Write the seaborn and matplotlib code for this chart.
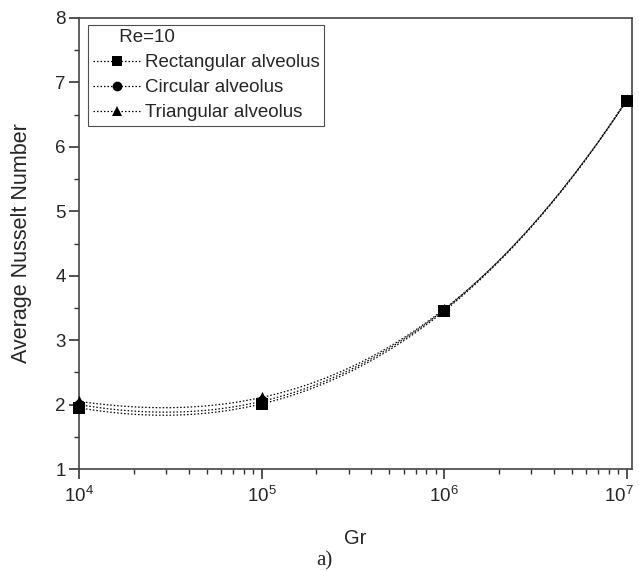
import numpy as np
import pandas as pd
import matplotlib
matplotlib.use("Agg")
import matplotlib.pyplot as plt
import matplotlib.transforms as mtrans
from matplotlib.lines import Line2D
from matplotlib.ticker import MultipleLocator, LogLocator, NullFormatter, FixedLocator
import seaborn as sns

gr = [1e4, 1e5, 1e6, 1e7]
rect = [1.95, 2.01, 3.45, 6.71]
circ = [2.00, 2.05, 3.47, 6.72]
tri = [2.05, 2.11, 3.48, 6.73]
labels = ["Rectangular alveolus", "Circular alveolus", "Triangular alveolus"]
markers = ["s", "o", "^"]

sns.set_style("ticks")
plt.rcParams['font.family'] = ['Liberation Sans', 'DejaVu Sans']

fig = plt.figure(figsize=(6.39, 5.71), dpi=100)
L, R, T, B = 79, 632, 18, 469
ax = fig.add_axes([L / 639, 1 - B / 571, (R - L) / 639, (B - T) / 571])

lx = np.log10(gr)
xs = np.linspace(lx[0], lx[-1], 300)
rows = []
pts = []
for lab, ys in zip(labels, [rect, circ, tri]):
    coef = np.polyfit(lx, ys, 3)
    ysm = np.polyval(coef, xs)
    rows.append(pd.DataFrame({"Gr": 10 ** xs, "Nu": ysm, "s": lab}))
    pts.append(pd.DataFrame({"Gr": gr, "Nu": ys, "s": lab}))
smooth = pd.concat(rows)
points = pd.concat(pts)

dash = (0, (1.2, 1.6))
for lab, m in zip(labels, markers):
    sns.lineplot(data=smooth[smooth.s == lab], x="Gr", y="Nu", ax=ax,
                 color="black", linewidth=0.9, linestyle=dash, legend=False)
    sns.scatterplot(data=points[points.s == lab], x="Gr", y="Nu", ax=ax,
                    marker=m, color="black", s=65, edgecolor="black",
                    linewidth=0, legend=False, zorder=5, clip_on=False)

ax.set_xscale("log")
ax.set_xlim(1e4, 10 ** 7.03)
ax.set_ylim(1, 8)
ax.yaxis.set_major_locator(MultipleLocator(1))
ax.yaxis.set_minor_locator(MultipleLocator(0.5))
ax.xaxis.set_major_locator(FixedLocator(gr))
ax.xaxis.set_minor_locator(LogLocator(base=10, subs=np.arange(2, 10)))
ax.xaxis.set_minor_formatter(NullFormatter())

for sp in ax.spines.values():
    sp.set_color("#444444")
    sp.set_linewidth(1.2)
ax.tick_params(axis="both", which="major", direction="out", length=7.5,
               width=1.2, color="#333333", labelsize=13.5, top=False, right=False)
ax.tick_params(axis="both", which="minor", direction="out", length=3.5,
               width=1.0, color="#333333", top=False, right=False)
ax.tick_params(axis="x", pad=5)
ax.tick_params(axis="y", pad=2)

ax.set_xlabel("Gr", fontsize=14.5, labelpad=16)
ax.set_ylabel("Average Nusselt Number", fontsize=15.5, labelpad=17)

handles = [Line2D([0], [0], color="black", linestyle=dash, linewidth=0.9,
                  marker=m, markersize=7, markeredgewidth=0)
           for m in markers]
leg = ax.legend(handles, labels, title="     Re=10", loc="upper left",
                bbox_to_anchor=(0.016, 0.985), fontsize=13.5, title_fontsize=13.5,
                frameon=True, fancybox=False, edgecolor="#222222",
                handlelength=2.6, handletextpad=0.2, borderpad=0.25,
                labelspacing=0.42, borderaxespad=0.0)
leg._legend_box.align = "left"
leg.get_frame().set_linewidth(0.8)

fig.text(324 / 639, 1 - 561 / 571, "a)", family=["Liberation Serif", "DejaVu Serif"],
         fontsize=15, ha="center", va="center")

fig.canvas.draw()
for tk in ax.xaxis.get_major_ticks():
    if np.isclose(tk.get_loc(), 1e7):
        lab = tk.label1
        lab.set_transform(lab.get_transform() +
                          mtrans.ScaledTranslation(-8 / 100, 0, fig.dpi_scale_trans))

fig.savefig("out.png", dpi=100)
